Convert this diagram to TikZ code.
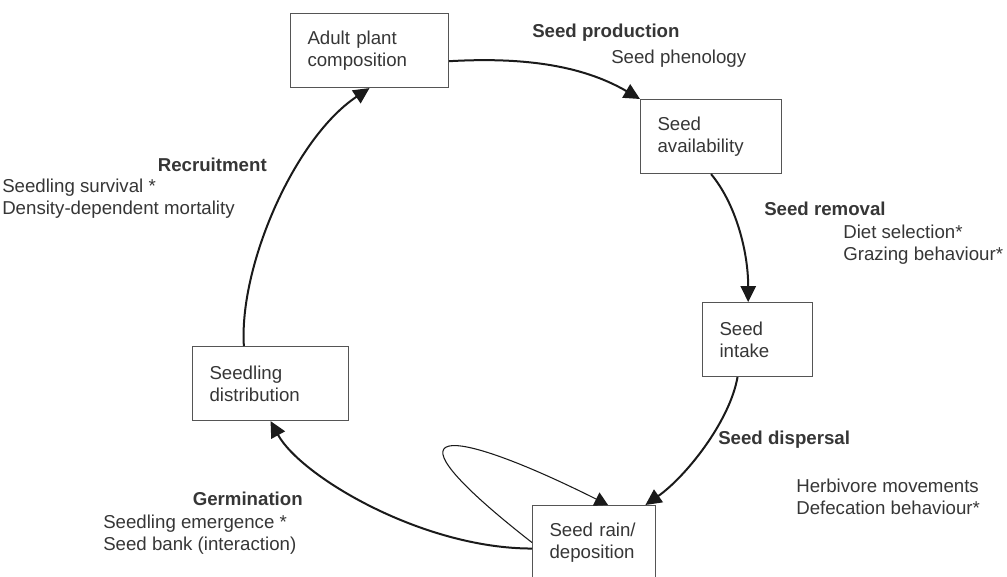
\documentclass[tikz,border=0pt]{standalone}
\usepackage{fontspec}
\setmainfont{Liberation Sans}
\usetikzlibrary{arrows.meta,calc}
\definecolor{inkgrey}{HTML}{363636}
\definecolor{boxgrey}{HTML}{555555}
\definecolor{lineblack}{HTML}{1A1A1A}

\begin{document}
\begin{tikzpicture}[
  x=0.75pt, y=-0.75pt,
  stage/.style={draw=boxgrey, line width=0.8pt, anchor=north west, align=left,
    inner xsep=12.75pt, minimum height=55.5pt, text=inkgrey,
    font=\fontsize{14}{16.5}\selectfont},
  process/.style={anchor=west, inner sep=0pt, text=inkgrey,
    font=\fontsize{14}{16.5}\selectfont\bfseries},
  factors/.style={anchor=north west, inner sep=0pt, align=left, text=inkgrey,
    font=\fontsize{14}{16.5}\selectfont},
  flow/.style={-{Triangle[length=12pt, width=11.5pt]}, line width=1.5pt, draw=lineblack},
  loopback/.style={-{Triangle[length=10pt, width=11pt]}, line width=0.8pt, draw=lineblack}
]
\useasboundingbox (0,0) rectangle (1007,576);

\node[stage, text width=93pt] (adult) at (290,13) {Adult plant\\composition};
\node[stage, text width=80.25pt] (avail) at (640,99) {Seed\\availability};
\node[stage, text width=57pt] (intake) at (702,302) {Seed\\intake};
\node[stage, text width=91.5pt] (seedling) at (192,346) {Seedling\\distribution};
\node[stage, text width=66.75pt] (rain) at (532,505) {Seed rain/\\deposition};

\node[process] (prodlbl) at (532,33) {Seed production};
\node[factors] (prodfac) at (611,50) {Seed phenology};
\node[process] (remlbl) at (764,209) {Seed removal};
\node[factors] (remfac) at (843,225) {Diet selection*\\Grazing behaviour*};
\node[process] (displbl) at (718,440) {Seed dispersal};
\node[factors] (dispfac) at (796,479) {Herbivore movements\\Defecation behaviour*};
\node[process, anchor=east] (germlbl) at (303,499) {Germination};
\node[factors] (germfac) at (103,515) {Seedling emergence *\\Seed bank (interaction)};
\node[process, anchor=east] (recrlbl) at (267,165) {Recruitment};
\node[factors] (recrfac) at (2,179) {Seedling survival *\\Density-dependent mortality};

\draw[flow] ([yshift=-8pt]adult.east) .. controls +(70,-4) and +(-60,-35) .. (avail.north west);
\draw[flow] (avail.south) .. controls +(25,30) and +(0,-50) .. ([xshift=-7pt]intake.north);
\draw[flow] ([xshift=-15pt]intake.south) .. controls +(-8,45) and +(40,-28) .. ([xshift=-8pt]rain.north east);
\draw[flow] ([yshift=-4.5pt]rain.west) .. controls +(-110,0) and +(30,55) .. (seedling.south);
\draw[flow] ([xshift=-20pt]seedling.north) .. controls +(-5,-80) and +(-75,50) .. (adult.south);
\draw[loopback] (rain.west) .. controls +(-160,-125) and +(-160,-80) .. ([xshift=10.5pt]rain.north);
\end{tikzpicture}
\end{document}
